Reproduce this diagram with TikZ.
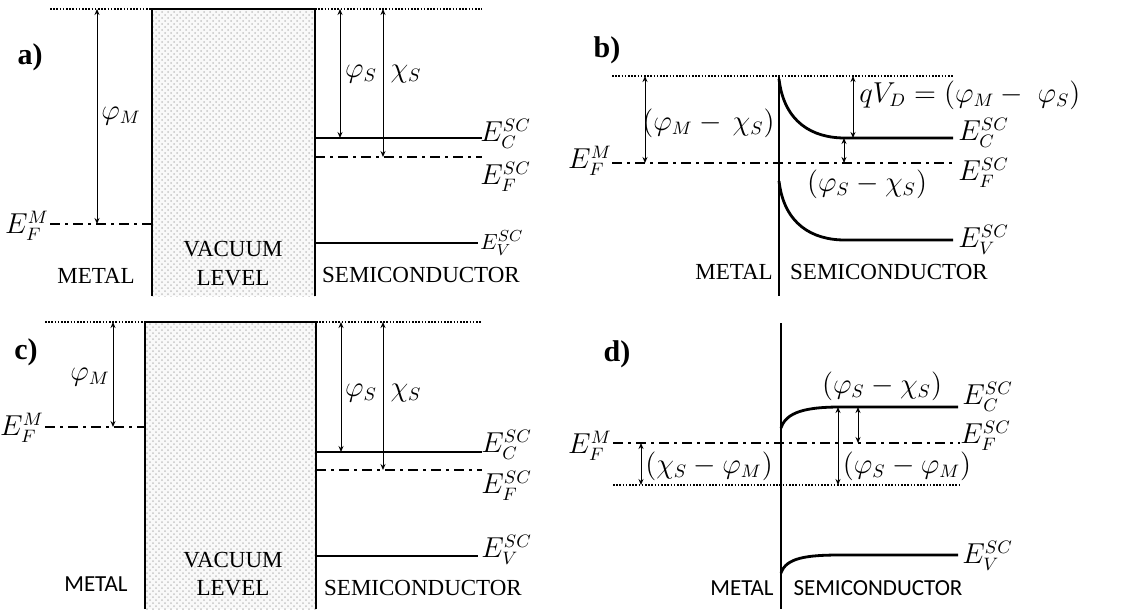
\documentclass[tikz,border=0pt]{standalone}
\usepackage{amsmath}
\usepackage{fontspec}
\setmainfont{Liberation Serif}
\newfontfamily\calibrifont{Carlito}
\usetikzlibrary{arrows.meta,patterns}

\begin{document}
\begin{tikzpicture}[x=0.5pt, y=-0.5pt,
  elevel/.style={line width=1.4pt},
  fermiline/.style={line width=1.3pt, dash pattern=on 5pt off 2.5pt on 1.5pt off 2.5pt},
  vacline/.style={line width=1pt, dash pattern=on 0.8pt off 0.8pt},
  gaparrow/.style={line width=0.5pt, {Stealth[length=3pt,width=2.5pt]}-{Stealth[length=3pt,width=2.5pt]}},
  vacbox/.style={fill=gray!5},
  textlbl/.style={font=\fontsize{11.5}{13}\selectfont, inner sep=0pt},
  sanslbl/.style={font=\calibrifont\fontsize{11.5}{13}\selectfont, inner sep=0pt},
  mathlbl/.style={font=\fontsize{13.5}{16}\selectfont, inner sep=0pt},
  smallmath/.style={font=\fontsize{11}{13}\selectfont, inner sep=0pt},
  panellbl/.style={font=\bfseries\fontsize{15}{17}\selectfont, inner sep=0pt}]
\useasboundingbox (0,0) rectangle (1123,612);

% a)
\coordinate (aVacL) at (50,9);
\coordinate (aBoxTL) at (152,9);
\coordinate (aBoxTR) at (315,9);
\coordinate (aVacR) at (482,9);
\coordinate (aBoxBL) at (152,296);
\coordinate (aBoxBR) at (315,296);
\coordinate (aEFM) at (50,224);
\coordinate (aEFMwall) at (152,224);
\coordinate (aECL) at (315,138);
\coordinate (aECR) at (482,138);
\coordinate (aEFL) at (315,157);
\coordinate (aEFR) at (482,157);
\coordinate (aEVL) at (315,243);
\coordinate (aEVR) at (478,243);
\coordinate (aPhiMtop) at (97,9);
\coordinate (aPhiMbot) at (97,224);
\coordinate (aPhiStop) at (340,9);
\coordinate (aPhiSbot) at (340,138);
\coordinate (aChiStop) at (383,9);
\coordinate (aChiSbot) at (383,157);

\fill[vacbox] (aBoxBL) rectangle (aBoxTR);
\fill[pattern=crosshatch dots, pattern color=gray!45] (aBoxBL) rectangle (aBoxTR);
\draw[elevel] (aBoxBL) -- (aBoxTL) -- (aBoxTR) -- (aBoxBR);
\draw[vacline] (aVacL) -- (aBoxTL);
\draw[vacline] (aBoxTR) -- (aVacR);
\draw[fermiline] (aEFM) -- (aEFMwall);
\draw[elevel] (aECL) -- (aECR);
\draw[fermiline] (aEFL) -- (aEFR);
\draw[elevel] (aEVL) -- (aEVR);
\draw[gaparrow] (aPhiMtop) -- (aPhiMbot);
\draw[gaparrow] (aPhiStop) -- (aPhiSbot);
\draw[gaparrow] (aChiStop) -- (aChiSbot);

\node (aLabel) [panellbl] at (30,57) {a)};
\node (aPhiM) [mathlbl] at (121,116) {$\varphi_M$};
\node (aPhiS) [mathlbl] at (361,74) {$\varphi_S$};
\node (aChiS) [mathlbl] at (406,74) {$\chi_S$};
\node (aEFMlbl) [mathlbl, anchor=east] at (49,226) {$E_F^M$};
\node (aEClbl) [mathlbl, anchor=west] at (480,134) {$E_C^{SC}$};
\node (aEFlbl) [mathlbl, anchor=west] at (480,177) {$E_F^{SC}$};
\node (aEVlbl) [smallmath, anchor=west] at (480,243) {$E_V^{SC}$};
\node (aMetal) [textlbl] at (96,276) {METAL};
\node (aVacuum) [textlbl] at (233,249) {VACUUM};
\node (aLevel) [textlbl] at (233,278) {LEVEL};
\node (aSemi) [textlbl] at (421,275) {SEMICONDUCTOR};

% b)
\coordinate (bVacL) at (612,76);
\coordinate (bWallTop) at (779,76);
\coordinate (bVacR) at (953,76);
\coordinate (bWallBot) at (779,296);
\coordinate (bEFL) at (612,163);
\coordinate (bEFR) at (955,163);
\coordinate (bECwall) at (779,79);
\coordinate (bECbend) at (845,138);
\coordinate (bECR) at (953,138);
\coordinate (bEVwall) at (779,181);
\coordinate (bEVbend) at (845,240);
\coordinate (bEVR) at (953,240);
\coordinate (bPhiMtop) at (645,76);
\coordinate (bPhiMbot) at (645,163);
\coordinate (bVDtop) at (853,76);
\coordinate (bVDbot) at (853,138);
\coordinate (bPhiStop) at (844,138);
\coordinate (bPhiSbot) at (844,163);

\draw[vacline] (bVacL) -- (bVacR);
\draw[fermiline] (bEFL) -- (bEFR);
\draw[elevel] (bWallTop) -- (bWallBot);
\draw[elevel] (bECwall) .. controls (784,122) and (812,138) .. (bECbend) -- (bECR);
\draw[elevel] (bEVwall) .. controls (784,224) and (812,240) .. (bEVbend) -- (bEVR);
\draw[gaparrow] (bPhiMtop) -- (bPhiMbot);
\draw[gaparrow] (bVDtop) -- (bVDbot);
\draw[gaparrow] (bPhiStop) -- (bPhiSbot);

\node (bLabel) [panellbl] at (607,50) {b)};
\node (bEFMlbl) [mathlbl, anchor=east] at (612,161) {$E_F^M$};
\node (bPhiMChiS) [mathlbl, anchor=east] at (775,123) {$(\varphi_M -\,\chi_S)$};
\node (bVD) [mathlbl, anchor=west] at (859,95) {$qV_D = (\varphi_M -\;\varphi_S)$};
\node (bPhiSChiS) [mathlbl] at (867,184) {$(\varphi_S - \chi_S)$};
\node (bEClbl) [mathlbl, anchor=west] at (958,133) {$E_C^{SC}$};
\node (bEFlbl) [mathlbl, anchor=west] at (958,173) {$E_F^{SC}$};
\node (bEVlbl) [mathlbl, anchor=west] at (958,240) {$E_V^{SC}$};
\node (bMetal) [textlbl] at (734,272) {METAL};
\node (bSemi) [textlbl] at (889,272) {SEMICONDUCTOR};

% c)
\coordinate (cVacL) at (45,322);
\coordinate (cBoxTL) at (145,322);
\coordinate (cBoxTR) at (316,322);
\coordinate (cVacR) at (482,322);
\coordinate (cBoxBL) at (145,609);
\coordinate (cBoxBR) at (316,609);
\coordinate (cEFM) at (45,427);
\coordinate (cEFMwall) at (145,427);
\coordinate (cECL) at (316,452);
\coordinate (cECR) at (482,452);
\coordinate (cEFL) at (316,470);
\coordinate (cEFR) at (482,470);
\coordinate (cEVL) at (316,556);
\coordinate (cEVR) at (478,556);
\coordinate (cPhiMtop) at (113,322);
\coordinate (cPhiMbot) at (113,427);
\coordinate (cPhiStop) at (341,322);
\coordinate (cPhiSbot) at (341,452);
\coordinate (cChiStop) at (383,322);
\coordinate (cChiSbot) at (383,470);

\fill[vacbox] (cBoxBL) rectangle (cBoxTR);
\fill[pattern=crosshatch dots, pattern color=gray!45] (cBoxBL) rectangle (cBoxTR);
\draw[elevel] (cBoxBL) -- (cBoxTL) -- (cBoxTR) -- (cBoxBR);
\draw[vacline] (cVacL) -- (cBoxTL);
\draw[vacline] (cBoxTR) -- (cVacR);
\draw[fermiline] (cEFM) -- (cEFMwall);
\draw[elevel] (cECL) -- (cECR);
\draw[fermiline] (cEFL) -- (cEFR);
\draw[elevel] (cEVL) -- (cEVR);
\draw[gaparrow] (cPhiMtop) -- (cPhiMbot);
\draw[gaparrow] (cPhiStop) -- (cPhiSbot);
\draw[gaparrow] (cChiStop) -- (cChiSbot);

\node (cLabel) [panellbl] at (26,352) {c)};
\node (cPhiM) [mathlbl] at (90,377) {$\varphi_M$};
\node (cPhiS) [mathlbl] at (361,393) {$\varphi_S$};
\node (cChiS) [mathlbl] at (406,393) {$\chi_S$};
\node (cEFMlbl) [mathlbl, anchor=east] at (44,428) {$E_F^M$};
\node (cEClbl) [mathlbl, anchor=west] at (481,445) {$E_C^{SC}$};
\node (cEFlbl) [mathlbl, anchor=west] at (481,486) {$E_F^{SC}$};
\node (cEVlbl) [mathlbl, anchor=west] at (481,550) {$E_V^{SC}$};
\node (cMetal) [sanslbl] at (96,584) {METAL};
\node (cVacuum) [textlbl] at (233,560) {VACUUM};
\node (cLevel) [textlbl] at (233,588) {LEVEL};
\node (cSemi) [textlbl] at (423,588) {SEMICONDUCTOR};

% d)
\coordinate (dWallTop) at (781,323);
\coordinate (dWallBot) at (781,609);
\coordinate (dEFL) at (613,443);
\coordinate (dEFR) at (960,443);
\coordinate (dVacL) at (613,485);
\coordinate (dVacR) at (960,485);
\coordinate (dECwall) at (781,428);
\coordinate (dECbend) at (840,407);
\coordinate (dECR) at (958,407);
\coordinate (dEVwall) at (781,573);
\coordinate (dEVbend) at (840,555);
\coordinate (dEVR) at (958,555);
\coordinate (dChiStop) at (641,443);
\coordinate (dChiSbot) at (641,485);
\coordinate (dPhiMtop) at (838,407);
\coordinate (dPhiMbot) at (838,485);
\coordinate (dPhiStop) at (858,407);
\coordinate (dPhiSbot) at (858,443);

\draw[fermiline] (dEFL) -- (dEFR);
\draw[vacline] (dVacL) -- (dVacR);
\draw[elevel] (dWallTop) -- (dWallBot);
\draw[elevel] (dECwall) .. controls (786,412) and (806,407) .. (dECbend) -- (dECR);
\draw[elevel] (dEVwall) .. controls (786,558) and (806,555) .. (dEVbend) -- (dEVR);
\draw[gaparrow] (dChiStop) -- (dChiSbot);
\draw[gaparrow] (dPhiMtop) -- (dPhiMbot);
\draw[gaparrow] (dPhiStop) -- (dPhiSbot);

\node (dLabel) [panellbl] at (617,354) {d)};
\node (dEFMlbl) [mathlbl, anchor=east] at (612,446) {$E_F^M$};
\node (dChiSPhiM) [mathlbl] at (709,466) {$(\chi_S - \varphi_M)$};
\node (dPhiSPhiM) [mathlbl] at (907,466) {$(\varphi_S - \varphi_M)$};
\node (dPhiSChiS) [mathlbl] at (882,386) {$(\varphi_S - \chi_S)$};
\node (dEClbl) [mathlbl, anchor=west] at (962,397) {$E_C^{SC}$};
\node (dEFlbl) [mathlbl, anchor=west] at (960,436) {$E_F^{SC}$};
\node (dEVlbl) [mathlbl, anchor=west] at (962,556) {$E_V^{SC}$};
\node (dMetal) [sanslbl] at (742,588) {METAL};
\node (dSemi) [sanslbl] at (878,588) {SEMICONDUCTOR};
\end{tikzpicture}
\end{document}
